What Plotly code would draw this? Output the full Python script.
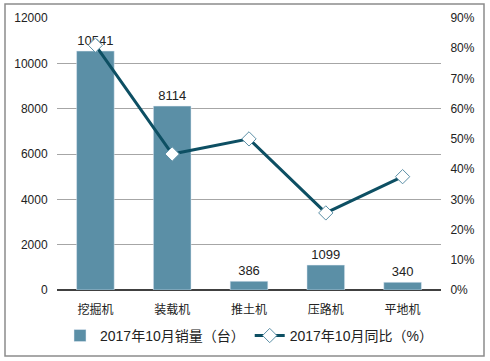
import plotly.graph_objects as go

categories = ["挖掘机", "装载机", "推土机", "压路机", "平地机"]
sales = [10541, 8114, 386, 1099, 340]
yoy = [81, 45, 50, 25.5, 37.5]
left_ticks = [0, 2000, 4000, 6000, 8000, 10000, 12000]
right_ticks = [0, 10, 20, 30, 40, 50, 60, 70, 80, 90]

FONT = "Arial, 'Liberation Sans', 'Noto Sans CJK SC', sans-serif"

fig = go.Figure()
fig.add_trace(go.Bar(
    x=categories, y=sales, name="2017年10月销量（台）",
    marker=dict(color="#5B8FA6"), width=0.49,
    text=[str(v) for v in sales], textposition="outside",
    textfont=dict(size=13, color="#222222"), cliponaxis=False,
))
fig.add_trace(go.Scatter(
    x=categories, y=yoy, name="2017年10月同比（%）", yaxis="y2",
    mode="lines+markers",
    line=dict(color="#0D4F63", width=3),
    marker=dict(symbol="diamond", size=11, color="white",
                line=dict(color="#5B8FA6", width=1)),
))

L, R, T, B = 57, 49, 18, 71
W, H = 490, 361
pw, ph = W - L - R, H - T - B

fig.update_layout(
    width=W, height=H,
    margin=dict(l=L, r=R, t=T, b=B, autoexpand=False),
    paper_bgcolor="white", plot_bgcolor="white",
    font=dict(family=FONT, size=12, color="#222222"),
    showlegend=True,
    legend=dict(orientation="h", x=0.5, xanchor="center", y=-0.11, yanchor="top",
                font=dict(size=14, color="#222222"), traceorder="normal",
                itemwidth=30),
    xaxis=dict(showgrid=False, showline=False, ticks="outside", ticklen=9,
               tickcolor="rgba(0,0,0,0)", automargin=False,
               tickfont=dict(size=12, family="'Noto Sans CJK SC', sans-serif")),
    yaxis=dict(range=[0, 12000], tickvals=left_ticks,
               ticktext=[str(v) for v in left_ticks], showgrid=True,
               gridcolor="#A6A6A6", gridwidth=1, zeroline=True,
               zerolinecolor="#404040", zerolinewidth=1.5, automargin=False,
               tickfont=dict(size=12), ticks="outside", ticklen=6,
               tickcolor="rgba(0,0,0,0)"),
    yaxis2=dict(range=[0, 90], tickvals=right_ticks,
                ticktext=[f"{v}%" for v in right_ticks],
                overlaying="y", side="right", showgrid=False, zeroline=False,
                automargin=False, tickfont=dict(size=12), ticks="outside",
                ticklen=6, tickcolor="rgba(0,0,0,0)"),
    shapes=[dict(type="rect", xref="paper", yref="paper",
                 x0=(5 - L) / pw, x1=(484 - L) / pw,
                 y0=(H - B - 356) / ph, y1=(H - B - 4) / ph,
                 line=dict(color="#8C8C8C", width=1.5), fillcolor="rgba(0,0,0,0)",
                 layer="below")],
)

fig.write_html("out.html", config={"displayModeBar": False},
               post_script="document.body.style.margin='0';document.body.style.overflow='hidden';")
